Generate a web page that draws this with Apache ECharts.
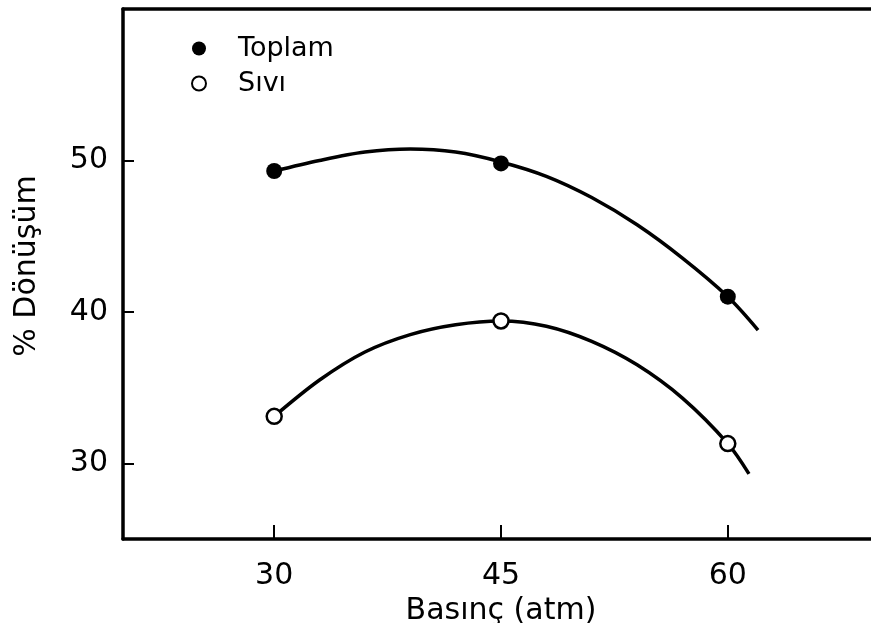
<!DOCTYPE html>
<html>
<head>
<meta charset="utf-8">
<script src="https://cdn.jsdelivr.net/npm/echarts@6/dist/echarts.min.js"></script>
<style>html,body{margin:0;padding:0;background:#fff;}#c{width:871px;height:623px;}</style>
</head>
<body>
<div id="c"></div>
<script>
// Measured points
const pressure = [30, 45, 60];
const toplam = [49.3, 49.8, 41.0];
const sivi = [33.1, 39.4, 31.3];
// Points
const toplamCurveX = [30, 33, 36, 39, 42, 45, 48, 51, 54, 57, 60, 62];
const toplamCurveY = [49.3, 50.0, 50.55, 50.75, 50.55, 49.9, 48.95, 47.55, 45.75, 43.55, 41.0, 38.8];
const siviCurveX = [30, 33, 36, 39, 42, 45, 48, 51, 54, 57, 60, 61.4];
const siviCurveY = [33.1, 35.5, 37.35, 38.5, 39.15, 39.4, 39.05, 38.05, 36.5, 34.3, 31.3, 29.3];
// Tick labels
const xTicks = [30, 45, 60];
const yTicks = [30, 40, 50];

const FONT = 'DejaVu Sans';
const pair = (xs, ys) => xs.map((x, i) => [x, ys[i]]);

const chart = echarts.init(document.getElementById('c'), null, {renderer: 'canvas'});
chart.setOption({
  backgroundColor: '#fff',
  animation: false,
  grid: {left: 123, top: 9, right: -8, bottom: 84, containLabel: false, outerBoundsMode: 'none'},
  legend: {
    data: ['Toplam', 'Sıvı'],
    orient: 'vertical',
    left: 186, top: 30,
    itemWidth: 14, itemHeight: 14, itemGap: 8,
    textStyle: {fontFamily: FONT, fontSize: 27, color: '#000', padding: [0, 0, 0, 27]}
  },
  xAxis: [{
    type: 'value', min: 20, max: 70,
    name: 'Basınç (atm)', nameLocation: 'middle', nameGap: 51,
    nameTextStyle: {fontFamily: FONT, fontSize: 30, color: '#000'},
    axisLine: {lineStyle: {color: '#000', width: 3.5}},
    axisTick: {inside: true, length: 14, lineStyle: {color: '#000', width: 2}, customValues: xTicks},
    axisLabel: {fontFamily: FONT, fontSize: 30, color: '#000', margin: 22, customValues: xTicks},
    splitLine: {show: false}
  }, {
    type: 'value', min: 20, max: 70, position: 'top',
    axisLine: {show: true, lineStyle: {color: '#000', width: 3.5}},
    axisTick: {show: false}, axisLabel: {show: false}, splitLine: {show: false}
  }],
  yAxis: {
    type: 'value', min: 25, max: 60,
    name: '% Dönüşüm', nameLocation: 'middle', nameGap: 81, nameRotate: 90,
    nameTextStyle: {fontFamily: FONT, fontSize: 30, color: '#000', padding: [0, 0, 0, 16]},
    axisLine: {lineStyle: {color: '#000', width: 3.5}},
    axisTick: {inside: true, length: 11, lineStyle: {color: '#000', width: 2}, customValues: yTicks},
    axisLabel: {fontFamily: FONT, fontSize: 30, color: '#000', margin: 15, customValues: yTicks},
    splitLine: {show: false}
  },
  series: [
    {name: 'Toplam eğri', type: 'line', data: pair(toplamCurveX, toplamCurveY), smooth: 0.33,
     showSymbol: false, lineStyle: {color: '#000', width: 3.5}, z: 2},
    {name: 'Sıvı eğri', type: 'line', data: pair(siviCurveX, siviCurveY), smooth: 0.33,
     showSymbol: false, lineStyle: {color: '#000', width: 3.5}, z: 2},
    {name: 'Toplam', type: 'scatter', data: pair(pressure, toplam), symbol: 'circle', symbolSize: 16,
     itemStyle: {color: '#000', opacity: 1}, z: 5},
    {name: 'Sıvı', type: 'scatter', data: pair(pressure, sivi), symbol: 'circle', symbolSize: 15,
     itemStyle: {color: '#fff', borderColor: '#000', borderWidth: 2.5, opacity: 1}, z: 5}
  ]
});
</script>
</body>
</html>
